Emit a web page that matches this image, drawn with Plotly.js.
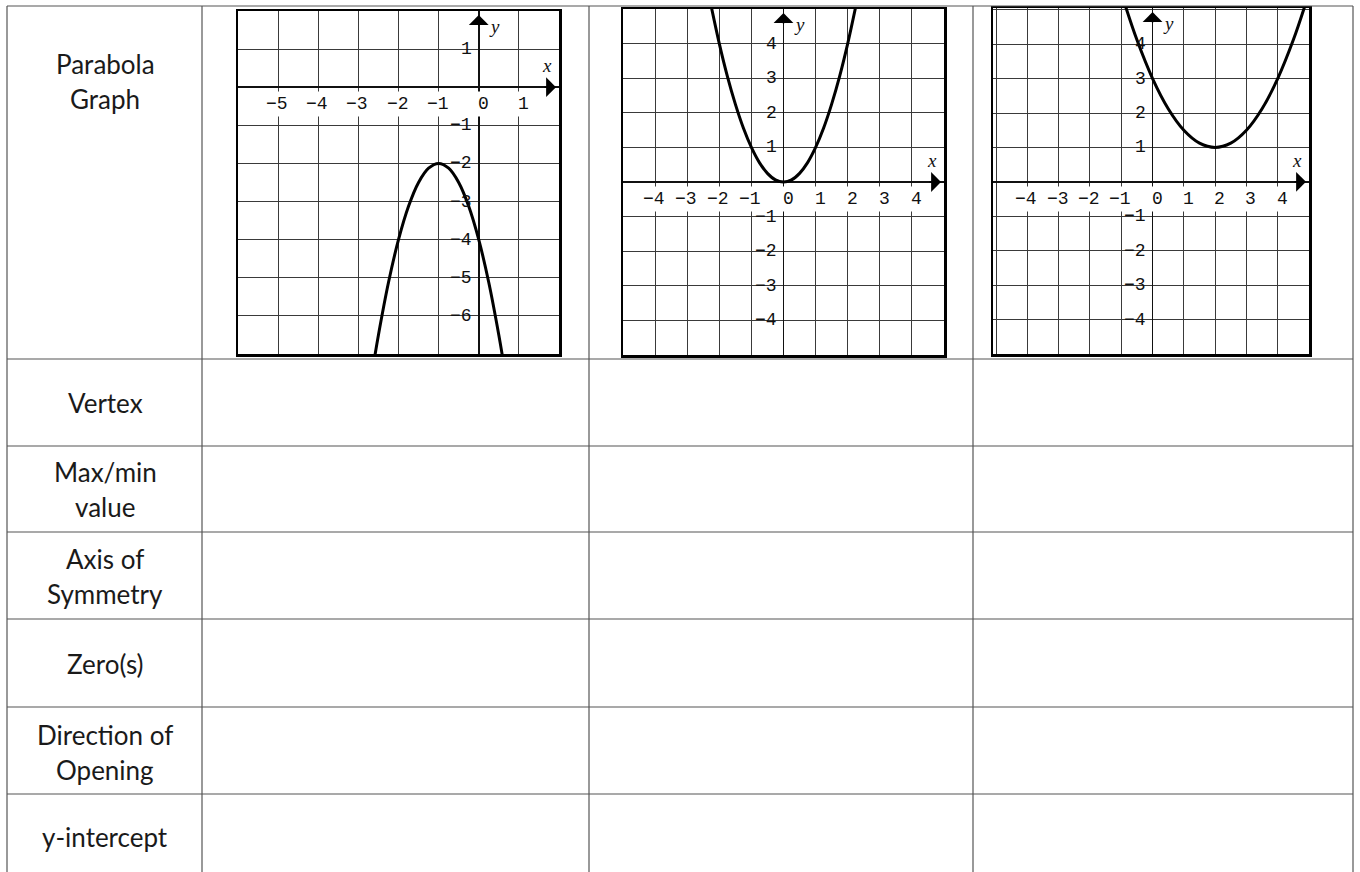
<!DOCTYPE html>
<html>
<head>
<meta charset="utf-8">
<script src="https://cdn.plot.ly/plotly-3.0.1.min.js"></script>
<style>
  html, body { margin: 0; padding: 0; background: #fff; }
  #chart { width: 1360px; height: 872px; }
</style>
</head>
<body>
<div id="chart"></div>
<script>
// Etiquetas de las filas de la tabla
const rowLabels = ["Parabola<br>Graph", "Vertex", "Max/min<br>value", "Axis of<br>Symmetry", "Zero(s)", "Direction of<br>Opening", "y-intercept"]

// Parábola 1 (abre hacia abajo, vértice en (-1,-2))
const curve1X = [-2.6, -2.5, -2.25, -2, -1.75, -1.5, -1.25, -1, -0.75, -0.5, -0.25, 0, 0.25, 0.5, 0.6]
const curve1Y = [-7.12, -6.5, -5.125, -4, -3.125, -2.5, -2.125, -2, -2.125, -2.5, -3.125, -4, -5.125, -6.5, -7.12]
const xTicks1 = [-5, -4, -3, -2, -1, 0, 1]
const yTicks1 = [1, -1, -2, -3, -4, -5, -6]

// Parábola 2 (vértice en (0,0))
const curve2X = [-2.3, -2, -1.75, -1.5, -1.25, -1, -0.75, -0.5, -0.25, 0, 0.25, 0.5, 0.75, 1, 1.25, 1.5, 1.75, 2, 2.3]
const curve2Y = [5.29, 4, 3.06, 2.25, 1.56, 1, 0.56, 0.25, 0.06, 0, 0.06, 0.25, 0.56, 1, 1.56, 2.25, 3.06, 4, 5.29]
const xTicks2 = [-4, -3, -2, -1, 0, 1, 2, 3, 4]
const yTicks2 = [4, 3, 2, 1, -1, -2, -3, -4]

// Parábola 3 (vértice en (2,1))
const curve3X = [-0.9, -0.5, 0, 0.5, 1, 1.5, 2, 2.5, 3, 3.5, 4, 4.5, 4.9]
const curve3Y = [5.2, 4.125, 3, 2.125, 1.5, 1.125, 1, 1.125, 1.5, 2.125, 3, 4.125, 5.2]
const xTicks3 = [-4, -3, -2, -1, 0, 1, 2, 3, 4]
const yTicks3 = [4, 3, 2, 1, -1, -2, -3, -4]

const W = 1360, H = 872
const px = (v) => v / W
const py = (v) => 1 - v / H

// Geometría de la tabla (pixeles)
const colLines = [7, 202, 589, 973, 1353]
const rowLines = [6, 359, 446, 532, 619, 707, 794]
const rowCenters = [81, 403, 490, 576, 664, 752, 837]

const graphs = [
  { sx: "", cx: curve1X, cy: curve1Y, xt: xTicks1, yt: yTicks1, xr: [-6, 2], yr: [-7, 2], box: [238, 559, 11, 354] },
  { sx: "2", cx: curve2X, cy: curve2Y, xt: xTicks2, yt: yTicks2, xr: [-5, 5], yr: [-5, 5], box: [623, 944, 9, 355] },
  { sx: "3", cx: curve3X, cy: curve3Y, xt: xTicks3, yt: yTicks3, xr: [-5.1, 5], yr: [-5, 5.05], box: [993, 1309, 8, 354] },
]

const traces = []
const layout = {
  width: W,
  height: H,
  margin: { l: 0, r: 0, t: 0, b: 0, pad: 0 },
  paper_bgcolor: "#fff",
  plot_bgcolor: "#fff",
  showlegend: false,
  annotations: [],
  shapes: [],
}

const tickFont = { family: "Liberation Mono, Courier New, monospace", size: 18, color: "#111" }
const fmt = (t) => (t < 0 ? "\u2212" + Math.abs(t) : String(t))

graphs.forEach((g) => {
  const xa = "x" + g.sx, ya = "y" + g.sx
  traces.push({
    x: g.cx, y: g.cy, xaxis: xa, yaxis: ya,
    type: "scatter", mode: "lines",
    line: { color: "#000", width: 3, shape: "spline", smoothing: 1 },
    hoverinfo: "skip",
  })

  const ejeComun = {
    dtick: 1, tick0: 0,
    showgrid: true, gridcolor: "#3a3a3a", gridwidth: 1,
    zeroline: true, zerolinecolor: "#111", zerolinewidth: 1.5,
    showline: true, mirror: true, linecolor: "#000", linewidth: 2.5,
    showticklabels: false, ticks: "", fixedrange: true,
  }
  layout["xaxis" + g.sx] = { ...ejeComun, domain: [px(g.box[0]), px(g.box[1])], range: g.xr, anchor: ya }
  layout["yaxis" + g.sx] = { ...ejeComun, domain: [py(g.box[3]), py(g.box[2])], range: g.yr, anchor: xa }

  // Etiquetas del eje x (debajo del eje, fondo blanco)
  g.xt.forEach((t) => {
    layout.annotations.push({
      xref: xa, yref: ya, x: t, y: 0, text: fmt(t), showarrow: false,
      xanchor: "right", yanchor: "middle", xshift: 13, yshift: -17,
      bgcolor: "#fff", borderpad: 2, font: tickFont,
    })
  })
  // Etiquetas del eje y (a la izquierda del eje)
  g.yt.forEach((t) => {
    layout.annotations.push({
      xref: xa, yref: ya, x: 0, y: t, text: fmt(t), showarrow: false,
      xanchor: "right", yanchor: "middle", xshift: -5,
      font: tickFont,
    })
  })

  // Flechas de los ejes
  layout.annotations.push({
    xref: xa, yref: ya, x: g.xr[1], y: 0, ax: -16, ay: 0, text: "",
    showarrow: true, arrowhead: 1, arrowsize: 2.2, arrowwidth: 1.5, arrowcolor: "#000", standoff: 3,
  })
  layout.annotations.push({
    xref: xa, yref: ya, x: 0, y: g.yr[1], ax: 0, ay: 16, text: "",
    showarrow: true, arrowhead: 1, arrowsize: 2.2, arrowwidth: 1.5, arrowcolor: "#000", standoff: 4,
  })
  // Nombres de los ejes
  layout.annotations.push({
    xref: xa, yref: ya, x: g.xr[1], y: 0, text: "x", showarrow: false,
    xanchor: "right", yanchor: "bottom", xshift: -5, yshift: 9,
    font: { family: "Liberation Serif, serif", size: 19, color: "#111", style: "italic" },
  })
  layout.annotations.push({
    xref: xa, yref: ya, x: 0, y: g.yr[1], text: "y", showarrow: false,
    xanchor: "left", yanchor: "top", xshift: 8, yshift: -3,
    font: { family: "Liberation Serif, serif", size: 19, color: "#111", style: "italic" },
  })
})

// Líneas de la tabla
const lineaTabla = { color: "#555", width: 1.2 }
colLines.forEach((c) => {
  layout.shapes.push({ type: "line", xref: "paper", yref: "paper", x0: px(c), x1: px(c), y0: py(rowLines[0]), y1: 0, line: lineaTabla })
})
rowLines.forEach((r) => {
  layout.shapes.push({ type: "line", xref: "paper", yref: "paper", x0: px(colLines[0]), x1: px(colLines[colLines.length - 1]), y0: py(r), y1: py(r), line: lineaTabla })
})

// Textos de las filas (una anotación por renglón)
rowLabels.forEach((label, i) => {
  const lineas = label.split("<br>")
  lineas.forEach((texto, j) => {
    const off = (j - (lineas.length - 1) / 2) * 35
    layout.annotations.push({
      xref: "paper", yref: "paper", x: px(105), y: py(rowCenters[i] + off),
      text: texto, showarrow: false, xanchor: "center", yanchor: "middle",
      font: { family: "Lato, Open Sans, sans-serif", size: 26, color: "#1a1a1a" },
    })
  })
})

Plotly.newPlot("chart", traces, layout, { staticPlot: true })
</script>
</body>
</html>
